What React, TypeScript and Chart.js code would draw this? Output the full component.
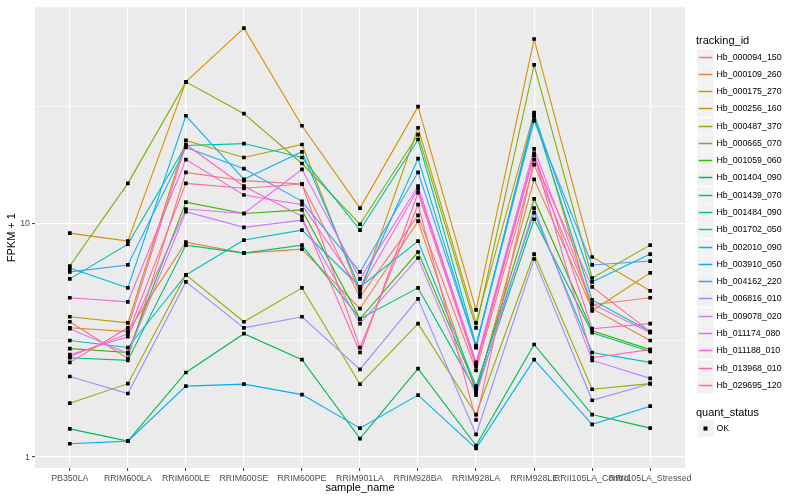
import React, { useEffect, useRef } from "react";
import { Chart, registerables } from "chart.js";

Chart.register(...registerables);

// ---------------- data ----------------
const categories = [
  "PB350LA",
  "RRIM600LA",
  "RRIM600LE",
  "RRIM600SE",
  "RRIM600PE",
  "RRIM901LA",
  "RRIM928BA",
  "RRIM928LA",
  "RRIM928LE",
  "RRII105LA_Control",
  "RRII105LA_Stressed",
];

const trackingIds = [
  "Hb_000094_150",
  "Hb_000109_260",
  "Hb_000175_270",
  "Hb_000256_160",
  "Hb_000487_370",
  "Hb_000665_070",
  "Hb_001059_060",
  "Hb_001404_090",
  "Hb_001439_070",
  "Hb_001484_090",
  "Hb_001702_050",
  "Hb_002010_090",
  "Hb_003910_050",
  "Hb_004162_220",
  "Hb_006816_010",
  "Hb_009078_020",
  "Hb_011174_080",
  "Hb_011188_010",
  "Hb_013968_010",
  "Hb_029695_120",
];

const seriesColors = [
  "#F8766D", "#EA8331", "#D89000", "#C09B00", "#A3A500",
  "#7CAE00", "#39B600", "#00BB4E", "#00BF7D", "#00C1A3",
  "#00BFC4", "#00BAE0", "#00B0F6", "#35A2FF", "#9590FF",
  "#C77CFF", "#E76BF3", "#FA62DB", "#FF62BC", "#FF6C91",
];

// FPKM + 1 per sample (order of categories)
const hb000094_150 = [3.79, 2.64, 16.5, 15.2, 14.7, 4.84, 10.8, 2.35, 17.8, 4.48, 4.8];
const hb000109_260 = [3.57, 3.44, 8.3, 7.45, 7.75, 4.31, 10.2, 1.89, 15.4, 4.31, 3.15];
const hb000175_270 = [9.07, 8.38, 40.2, 68.2, 26.1, 11.6, 31.5, 4.26, 61.3, 7.17, 5.14];
const hb000256_160 = [3.98, 3.75, 22.6, 19.1, 21.7, 4.99, 25.6, 3.75, 29.7, 4.22, 6.13];
const hb000487_370 = [1.7, 2.06, 6.01, 3.79, 5.29, 2.05, 3.72, 1.52, 7.38, 1.95, 2.06];
const hb000665_070 = [6.56, 14.8, 40.2, 29.4, 18.0, 9.9, 23.9, 3.57, 47.5, 5.83, 8.06];
const hb001059_060 = [2.91, 2.8, 12.3, 11.0, 11.4, 3.9, 7.53, 1.97, 12.7, 3.47, 2.88];
const hb001404_090 = [1.32, 1.17, 2.3, 3.37, 2.61, 1.2, 2.39, 1.12, 3.03, 1.52, 1.33];
const hb001439_070 = [2.66, 2.59, 8.06, 7.45, 8.06, 3.9, 5.29, 1.91, 10.4, 3.4, 2.83];
const hb001484_090 = [5.78, 8.14, 21.5, 21.9, 19.1, 9.34, 22.8, 3.0, 28.5, 4.7, 3.44];
const hb001702_050 = [3.15, 2.94, 6.01, 8.47, 9.34, 5.34, 8.38, 2.01, 11.1, 2.8, 2.54];
const hb002010_090 = [6.43, 5.29, 28.8, 15.4, 20.2, 5.24, 18.9, 2.94, 29.1, 5.61, 7.38];
const hb003910_050 = [1.14, 1.17, 2.01, 2.05, 1.85, 1.33, 1.84, 1.09, 2.61, 1.38, 1.65];
const hb004162_220 = [6.19, 6.63, 21.1, 17.1, 12.4, 6.19, 16.5, 2.97, 27.4, 6.63, 6.89];
const hb006816_010 = [2.21, 1.87, 5.61, 3.57, 3.98, 2.37, 4.75, 1.25, 7.03, 1.75, 2.06];
const hb009078_020 = [3.54, 2.77, 11.2, 9.6, 10.3, 3.72, 7.1, 1.84, 11.6, 2.59, 2.17];
const hb011174_080 = [2.74, 3.27, 11.5, 11.0, 17.0, 5.78, 14.4, 2.54, 20.8, 4.52, 3.4];
const hb011188_010 = [4.8, 4.61, 18.7, 13.2, 12.0, 5.19, 14.0, 2.49, 19.9, 3.54, 3.72];
const hb013968_010 = [2.54, 3.57, 21.7, 14.4, 10.7, 2.8, 13.5, 2.44, 19.5, 2.66, 2.88];
const hb029695_120 = [2.69, 3.37, 14.8, 14.1, 14.7, 2.94, 12.0, 1.44, 18.7, 5.34, 3.44];

const seriesValues = [
  hb000094_150, hb000109_260, hb000175_270, hb000256_160, hb000487_370,
  hb000665_070, hb001059_060, hb001404_090, hb001439_070, hb001484_090,
  hb001702_050, hb002010_090, hb003910_050, hb004162_220, hb006816_010,
  hb009078_020, hb011174_080, hb011188_010, hb013968_010, hb029695_120,
];

const yTickValues = [1, 10];
const yTickLabels = ["1", "10"];
const yMinorTickValues = [3.1623, 31.623];
const quantStatus = ["OK"];

// ---------------- styling ----------------
const FONT = "'Liberation Sans', Arial, Helvetica, sans-serif";
const PANEL_BG = "#EBEBEB";

const panelBackground = {
  id: "panelBackground",
  beforeDraw(chart: any) {
    const { ctx, chartArea: a } = chart;
    ctx.save();
    ctx.fillStyle = PANEL_BG;
    ctx.fillRect(a.left, a.top, a.right - a.left, a.bottom - a.top);
    ctx.restore();
  },
};

function isMajorY(v: number) {
  return yTickValues.indexOf(v) >= 0;
}

function LegendKey({ top, color, point }: { top: number; color?: string; point?: boolean }) {
  return (
    <svg
      width={17}
      height={17}
      style={{ position: "absolute", left: 697, top, display: "block" }}
    >
      <rect x={0} y={0} width={17} height={17} fill="#F2F2F2" stroke="#FFFFFF" strokeWidth={0.6} />
      {color ? (
        <line x1={1.7} x2={15.3} y1={8.5} y2={8.5} stroke={color} strokeWidth={1.5} />
      ) : null}
      {point ? <rect x={6.5} y={6.5} width={4} height={4} fill="#000000" /> : null}
    </svg>
  );
}

export default function App() {
  const canvasRef = useRef<HTMLCanvasElement | null>(null);

  useEffect(() => {
    if (!canvasRef.current) return;

    const lineSets = seriesValues.map((vals, i) => ({
      type: "line" as const,
      label: trackingIds[i],
      data: vals.map((v, j) => ({ x: j, y: v })),
      borderColor: seriesColors[i],
      backgroundColor: seriesColors[i],
      borderWidth: 1.1,
      pointRadius: 0,
      pointHoverRadius: 0,
      fill: false,
      tension: 0,
      order: 100 - i,
    }));

    const pointSets = seriesValues.map((vals, i) => ({
      type: "line" as const,
      label: trackingIds[i] + " " + quantStatus[0],
      data: vals.map((v, j) => ({ x: j, y: v })),
      showLine: false,
      pointStyle: "rect" as const,
      pointRadius: 2.6,
      pointBorderWidth: 0,
      pointBackgroundColor: "#000000",
      pointBorderColor: "#000000",
      borderColor: "#000000",
      backgroundColor: "#000000",
      order: 0,
    }));

    const chart = new Chart(canvasRef.current, {
      type: "line",
      data: { datasets: [...lineSets, ...pointSets] as any },
      plugins: [panelBackground],
      options: {
        animation: false,
        responsive: true,
        maintainAspectRatio: false,
        layout: { padding: { top: 5, right: 115, left: 0, bottom: 0 } },
        plugins: {
          legend: { display: false },
          tooltip: { enabled: false },
        },
        scales: {
          x: {
            type: "linear",
            min: -0.6,
            max: 10.6,
            afterBuildTicks: (s: any) => {
              s.ticks = categories.map((_, i) => ({ value: i }));
            },
            afterFit: (s: any) => {
              s.height = 32;
            },
            ticks: {
              autoSkip: false,
              maxRotation: 0,
              minRotation: 0,
              padding: 2,
              color: "#4D4D4D",
              font: { family: FONT, size: 8.8 },
              callback: (v: any) => categories[Math.round(Number(v))] ?? "",
            },
            grid: {
              color: "#FFFFFF",
              lineWidth: 1.2,
              drawTicks: true,
              tickLength: 3,
              tickColor: "#333333",
              tickWidth: 1,
            },
            border: { display: false },
            title: {
              display: true,
              text: "sample_name",
              color: "#000000",
              font: { family: FONT, size: 11 },
              padding: { top: 0, bottom: 5 },
            },
          },
          y: {
            type: "logarithmic",
            min: 0.898,
            max: 83.8,
            afterBuildTicks: (s: any) => {
              s.ticks = [...yTickValues, ...yMinorTickValues]
                .sort((a, b) => a - b)
                .map((v) => ({ value: v }));
            },
            afterFit: (s: any) => {
              s.width = 35;
            },
            ticks: {
              autoSkip: false,
              padding: 2,
              color: "#4D4D4D",
              font: { family: FONT, size: 8.8 },
              callback: (v: any) => {
                const k = yTickValues.indexOf(Number(v));
                return k >= 0 ? yTickLabels[k] : "";
              },
            },
            grid: {
              color: "#FFFFFF",
              lineWidth: (c: any) => (c.tick && isMajorY(c.tick.value) ? 1.2 : 0.6),
              drawTicks: true,
              tickLength: 3,
              tickWidth: 1,
              tickColor: (c: any) =>
                c.tick && isMajorY(c.tick.value) ? "#333333" : "rgba(0,0,0,0)",
            },
            border: { display: false },
            title: {
              display: true,
              text: "FPKM + 1",
              color: "#000000",
              font: { family: FONT, size: 11 },
              padding: { top: 5, bottom: 0 },
            },
          },
        },
      } as any,
    });

    return () => chart.destroy();
  }, []);

  const keyTops = trackingIds.map((_, i) => Math.round(48.5 + i * 17.28));

  return (
    <div
      style={{
        position: "absolute",
        left: 0,
        top: 0,
        width: 800,
        height: 500,
        background: "#FFFFFF",
        fontFamily: FONT,
        overflow: "hidden",
      }}
    >
      <div style={{ position: "absolute", left: 0, top: 0, width: 800, height: 500 }}>
        <canvas ref={canvasRef} />
      </div>

      {/* tracking_id legend */}
      <div
        style={{
          position: "absolute",
          left: 696,
          top: 33,
          fontSize: 11,
          lineHeight: "14px",
          color: "#000",
          whiteSpace: "nowrap",
        }}
      >
        tracking_id
      </div>
      {trackingIds.map((id, i) => (
        <React.Fragment key={id}>
          <LegendKey top={keyTops[i]} color={seriesColors[i]} />
          <div
            style={{
              position: "absolute",
              left: 716.5,
              top: keyTops[i],
              height: 17,
              lineHeight: "17px",
              fontSize: 8.8,
              color: "#000",
              whiteSpace: "nowrap",
            }}
          >
            {id}
          </div>
        </React.Fragment>
      ))}

      {/* quant_status legend */}
      <div
        style={{
          position: "absolute",
          left: 696,
          top: 405,
          fontSize: 11,
          lineHeight: "14px",
          color: "#000",
          whiteSpace: "nowrap",
        }}
      >
        quant_status
      </div>
      {quantStatus.map((q, i) => (
        <React.Fragment key={q}>
          <LegendKey top={420 + i * 17} point />
          <div
            style={{
              position: "absolute",
              left: 716.5,
              top: 420 + i * 17,
              height: 17,
              lineHeight: "17px",
              fontSize: 8.8,
              color: "#000",
              whiteSpace: "nowrap",
            }}
          >
            {q}
          </div>
        </React.Fragment>
      ))}
    </div>
  );
}
